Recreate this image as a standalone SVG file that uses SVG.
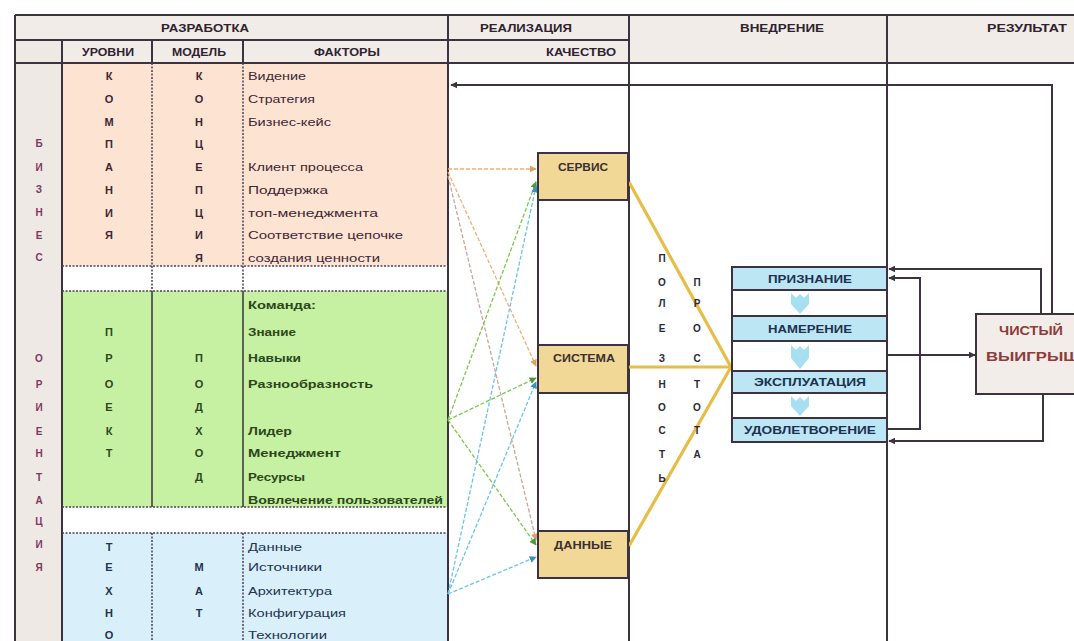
<svg xmlns="http://www.w3.org/2000/svg" width="1074" height="641" viewBox="0 0 1074 641">
<defs>
<style>
.ln{stroke:#3c3240;stroke-width:2;fill:none}
.dl{stroke:#4a3f55;stroke-width:1.5;stroke-dasharray:2 1.5;fill:none}
.hd{font-family:"Liberation Sans",Arial,sans-serif;font-weight:bold;font-size:10px;fill:#2e222e}
.ft{font-family:"Liberation Sans",Arial,sans-serif;font-size:11px}
.fc{fill:#3e2636}
.fg{fill:#2c461c;font-weight:bold}
.fb{fill:#22324f}
.lt{font-family:"Liberation Sans",Arial,sans-serif;font-weight:bold;font-size:11px;text-anchor:middle}
.lb{font-family:"Liberation Sans",Arial,sans-serif;font-weight:bold;font-size:10px;fill:#7a3a5c;text-anchor:middle}
.vt{font-family:"Liberation Sans",Arial,sans-serif;font-weight:bold;font-size:10px;fill:#2a2a35;text-anchor:middle}
.bx{fill:#f2d896;stroke:#3c3240;stroke-width:2}
.bl{font-family:"Liberation Sans",Arial,sans-serif;font-weight:bold;font-size:10px;fill:#3a3030;text-anchor:middle}
.st{font-family:"Liberation Sans",Arial,sans-serif;font-weight:bold;font-size:10px;fill:#1c3050;text-anchor:middle}
.or{stroke:#f0b070;stroke-width:1.3;stroke-dasharray:4 2;fill:none}
.or2{stroke:#c9a4a0;stroke-width:1.3;stroke-dasharray:4 2;fill:none}
.gr{stroke:#78c848;stroke-width:1.3;stroke-dasharray:4 2;fill:none}
.bu{stroke:#66c4ec;stroke-width:1.3;stroke-dasharray:4 2;fill:none}
.gd{stroke:#e6bd45;stroke-width:3.2;fill:none}
.dk{stroke:#3c3240;stroke-width:2;fill:none}
.chev{fill:#a6dff2}
</style>
<marker id="ad" viewBox="0 0 10 10" refX="9" refY="5" markerWidth="7" markerHeight="7" markerUnits="userSpaceOnUse" orient="auto"><path d="M0,0 L10,5 L0,10 Z" fill="#3c3240"/></marker>
<marker id="ao" viewBox="0 0 10 10" refX="9" refY="5" markerWidth="7" markerHeight="7" markerUnits="userSpaceOnUse" orient="auto"><path d="M0,0 L10,5 L0,10 Z" fill="#e0a060"/></marker>
<marker id="ag" viewBox="0 0 10 10" refX="9" refY="5" markerWidth="7" markerHeight="7" markerUnits="userSpaceOnUse" orient="auto"><path d="M0,0 L10,5 L0,10 Z" fill="#4a9a3a"/></marker>
<marker id="ab" viewBox="0 0 10 10" refX="9" refY="5" markerWidth="7" markerHeight="7" markerUnits="userSpaceOnUse" orient="auto"><path d="M0,0 L10,5 L0,10 Z" fill="#3a90c0"/></marker>
</defs>
<rect width="1074" height="641" fill="#ffffff"/>

<g id="table">
<rect x="15" y="15" width="1059" height="48" fill="#f2ece8"/>
<rect x="15" y="40" width="47" height="601" fill="#efe9e6"/>
<rect x="62" y="63" width="386" height="203" fill="#fde4d2"/>
<rect x="62" y="291" width="386" height="216" fill="#c6f0a2"/>
<rect x="62" y="533" width="386" height="108" fill="#d9effa"/>
<path class="ln" d="M15,15 H1074 M15,15 V641 M15,40 H629 M15,63 H1074 M62,40 V641 M448,15 V641 M629,15 V641 M887,15 V641 M152,40 V63 M243,40 V63"/>
<path class="dl" d="M152,63 V291 M243,63 V291 M152,533 V641 M243,533 V641 M62,266 H448 M62,291 H448 M62,507 H448 M62,533 H448"/>
<path class="ln" d="M152,291 V507 M243,291 V507" style="stroke-width:1.5"/>
<text class="hd" x="205" y="32" text-anchor="middle" textLength="88" lengthAdjust="spacingAndGlyphs">РАЗРАБОТКА</text>
<text class="hd" x="526" y="32" text-anchor="middle" textLength="92" lengthAdjust="spacingAndGlyphs">РЕАЛИЗАЦИЯ</text>
<text class="hd" x="782" y="32" text-anchor="middle" textLength="84" lengthAdjust="spacingAndGlyphs">ВНЕДРЕНИЕ</text>
<text class="hd" x="1027" y="32" text-anchor="middle" textLength="80" lengthAdjust="spacingAndGlyphs">РЕЗУЛЬТАТ</text>
<text class="hd" x="108" y="56" text-anchor="middle" textLength="52" lengthAdjust="spacingAndGlyphs">УРОВНИ</text>
<text class="hd" x="199" y="56" text-anchor="middle" textLength="54" lengthAdjust="spacingAndGlyphs">МОДЕЛЬ</text>
<text class="hd" x="347" y="56" text-anchor="middle" textLength="66" lengthAdjust="spacingAndGlyphs">ФАКТОРЫ</text>
<text class="hd" x="581" y="56" text-anchor="middle" textLength="70" lengthAdjust="spacingAndGlyphs">КАЧЕСТВО</text>
</g>

<g id="side-label">
<text class="lb" x="39" y="147">Б</text><text class="lb" x="39" y="171">И</text><text class="lb" x="39" y="193">З</text><text class="lb" x="39" y="216">Н</text><text class="lb" x="39" y="239">Е</text><text class="lb" x="39" y="261">С</text>
<text class="lb" x="39" y="362">О</text><text class="lb" x="39" y="388">Р</text><text class="lb" x="39" y="411">И</text><text class="lb" x="39" y="435">Е</text><text class="lb" x="39" y="457">Н</text><text class="lb" x="39" y="481">Т</text><text class="lb" x="39" y="504">А</text><text class="lb" x="39" y="525">Ц</text><text class="lb" x="39" y="548">И</text><text class="lb" x="39" y="571">Я</text>
</g>

<g id="company">
<text class="lt fc" x="109" y="80">К</text><text class="lt fc" x="109" y="103">О</text><text class="lt fc" x="109" y="126">М</text><text class="lt fc" x="109" y="148">П</text><text class="lt fc" x="109" y="171">А</text><text class="lt fc" x="109" y="194">Н</text><text class="lt fc" x="109" y="217">И</text><text class="lt fc" x="109" y="239">Я</text>
<text class="lt fc" x="199" y="80">К</text><text class="lt fc" x="199" y="103">О</text><text class="lt fc" x="199" y="126">Н</text><text class="lt fc" x="199" y="148">Ц</text><text class="lt fc" x="199" y="171">Е</text><text class="lt fc" x="199" y="194">П</text><text class="lt fc" x="199" y="217">Ц</text><text class="lt fc" x="199" y="239">И</text><text class="lt fc" x="199" y="262">Я</text>
<text class="ft fc" x="248" y="80" textLength="58" lengthAdjust="spacingAndGlyphs">Видение</text>
<text class="ft fc" x="248" y="103" textLength="67" lengthAdjust="spacingAndGlyphs">Стратегия</text>
<text class="ft fc" x="248" y="126" textLength="83" lengthAdjust="spacingAndGlyphs">Бизнес-кейс</text>
<text class="ft fc" x="248" y="171" textLength="115" lengthAdjust="spacingAndGlyphs">Клиент процесса</text>
<text class="ft fc" x="248" y="194" textLength="80" lengthAdjust="spacingAndGlyphs">Поддержка</text>
<text class="ft fc" x="248" y="217" textLength="130" lengthAdjust="spacingAndGlyphs">топ-менеджмента</text>
<text class="ft fc" x="248" y="239" textLength="155" lengthAdjust="spacingAndGlyphs">Соответствие цепочке</text>
<text class="ft fc" x="248" y="262" textLength="132" lengthAdjust="spacingAndGlyphs">создания ценности</text>
</g>

<g id="project">
<text class="lt fg" x="109" y="336">П</text><text class="lt fg" x="109" y="362">Р</text><text class="lt fg" x="109" y="388">О</text><text class="lt fg" x="109" y="411">Е</text><text class="lt fg" x="109" y="435">К</text><text class="lt fg" x="109" y="457">Т</text>
<text class="lt fg" x="199" y="362">П</text><text class="lt fg" x="199" y="388">О</text><text class="lt fg" x="199" y="411">Д</text><text class="lt fg" x="199" y="435">Х</text><text class="lt fg" x="199" y="457">О</text><text class="lt fg" x="199" y="481">Д</text>
<text class="ft fg" x="248" y="309" textLength="68" lengthAdjust="spacingAndGlyphs">Команда:</text>
<text class="ft fg" x="248" y="336" textLength="48" lengthAdjust="spacingAndGlyphs">Знание</text>
<text class="ft fg" x="248" y="362" textLength="53" lengthAdjust="spacingAndGlyphs">Навыки</text>
<text class="ft fg" x="248" y="388" textLength="125" lengthAdjust="spacingAndGlyphs">Разнообразность</text>
<text class="ft fg" x="248" y="435" textLength="44" lengthAdjust="spacingAndGlyphs">Лидер</text>
<text class="ft fg" x="248" y="457" textLength="93" lengthAdjust="spacingAndGlyphs">Менеджмент</text>
<text class="ft fg" x="248" y="481" textLength="57" lengthAdjust="spacingAndGlyphs">Ресурсы</text>
<text class="ft fg" x="248" y="504" textLength="195" lengthAdjust="spacingAndGlyphs">Вовлечение пользователей</text>
</g>

<g id="technology">
<text class="lt fb" x="109" y="551">Т</text><text class="lt fb" x="109" y="571">Е</text><text class="lt fb" x="109" y="595">Х</text><text class="lt fb" x="109" y="617">Н</text><text class="lt fb" x="109" y="639">О</text>
<text class="lt fb" x="199" y="571">М</text><text class="lt fb" x="199" y="595">А</text><text class="lt fb" x="199" y="617">Т</text>
<text class="ft fb" x="248" y="551" textLength="54" lengthAdjust="spacingAndGlyphs">Данные</text>
<text class="ft fb" x="248" y="571" textLength="74" lengthAdjust="spacingAndGlyphs">Источники</text>
<text class="ft fb" x="248" y="595" textLength="84" lengthAdjust="spacingAndGlyphs">Архитектура</text>
<text class="ft fb" x="248" y="617" textLength="98" lengthAdjust="spacingAndGlyphs">Конфигурация</text>
<text class="ft fb" x="248" y="639" textLength="79" lengthAdjust="spacingAndGlyphs">Технологии</text>
</g>

<g id="connectors">
<path class="or" d="M448,169 L536,169" marker-end="url(#ao)"/>
<path class="or" d="M448,172 L536,366" marker-end="url(#ao)"/>
<path class="or2" d="M448,176 L536,540" marker-end="url(#ao)"/>
<path class="gr" d="M448,420 L536,182" marker-end="url(#ag)"/>
<path class="gr" d="M448,420 L536,378" marker-end="url(#ag)"/>
<path class="gr" d="M448,420 L536,545" marker-end="url(#ag)"/>
<path class="bu" d="M448,594 L536,186" marker-end="url(#ab)"/>
<path class="bu" d="M448,594 L536,382" marker-end="url(#ab)"/>
<path class="bu" d="M448,594 L536,557" marker-end="url(#ab)"/>
<path class="gd" d="M629,182 L731,367 M629,367 L731,367 M629,546 L731,367"/>
<path class="dk" d="M1052,314 V85 H451" marker-end="url(#ad)"/>
<path class="dk" d="M1041,314 V269 H889" marker-end="url(#ad)"/>
<path class="dk" d="M887,429 H920 V278 H889" marker-end="url(#ad)"/>
<path class="dk" d="M887,355 H975" marker-end="url(#ad)"/>
<path class="dk" d="M1043,394 V441 H889" marker-end="url(#ad)"/>
<path class="ln" d="M538,200 V345 M538,393 V531"/>
</g>

<g id="servis"><rect class="bx" x="538" y="153" width="90" height="47"/><text class="bl" x="583" y="171" textLength="50" lengthAdjust="spacingAndGlyphs">СЕРВИС</text></g>
<g id="sistema"><rect class="bx" x="538" y="345" width="90" height="48"/><text class="bl" x="584" y="362" textLength="62" lengthAdjust="spacingAndGlyphs">СИСТЕМА</text></g>
<g id="dannye"><rect class="bx" x="538" y="531" width="90" height="47"/><text class="bl" x="583" y="549" textLength="58" lengthAdjust="spacingAndGlyphs">ДАННЫЕ</text></g>

<g id="poleznost">
<text class="vt" x="662" y="262">П</text><text class="vt" x="662" y="286">О</text><text class="vt" x="662" y="307">Л</text><text class="vt" x="662" y="332">Е</text><text class="vt" x="662" y="362">З</text><text class="vt" x="662" y="388">Н</text><text class="vt" x="662" y="411">О</text><text class="vt" x="662" y="434">С</text><text class="vt" x="662" y="458">Т</text><text class="vt" x="662" y="482">Ь</text>
</g>
<g id="prostota">
<text class="vt" x="697" y="286">П</text><text class="vt" x="697" y="307">Р</text><text class="vt" x="697" y="332">О</text><text class="vt" x="697" y="362">С</text><text class="vt" x="697" y="388">Т</text><text class="vt" x="697" y="411">О</text><text class="vt" x="697" y="434">Т</text><text class="vt" x="697" y="458">А</text>
</g>

<g id="stack">
<rect x="732" y="267" width="155" height="175" fill="#ffffff" stroke="#3c3240" stroke-width="2"/>
<rect x="732" y="267" width="155" height="23" fill="#bde6f4" stroke="#3c3240" stroke-width="2"/>
<rect x="732" y="316" width="155" height="25" fill="#bde6f4" stroke="#3c3240" stroke-width="2"/>
<rect x="732" y="371" width="155" height="22" fill="#bde6f4" stroke="#3c3240" stroke-width="2"/>
<rect x="732" y="418" width="155" height="24" fill="#bde6f4" stroke="#3c3240" stroke-width="2"/>
<path class="chev" d="M791,293 L796,298 L800,294 L804,298 L809,293 L809,304 L800,314 L791,304 Z"/>
<path class="chev" d="M791,345 L796,350 L800,346 L804,350 L809,345 L809,358 L800,369 L791,358 Z"/>
<path class="chev" d="M791,396 L796,401 L800,397 L804,401 L809,396 L809,406 L800,416 L791,406 Z"/>
<text class="st" x="810" y="283" textLength="84" lengthAdjust="spacingAndGlyphs">ПРИЗНАНИЕ</text>
<text class="st" x="810" y="333" textLength="84" lengthAdjust="spacingAndGlyphs">НАМЕРЕНИЕ</text>
<text class="st" x="810" y="386" textLength="112" lengthAdjust="spacingAndGlyphs">ЭКСПЛУАТАЦИЯ</text>
<text class="st" x="810" y="434" textLength="132" lengthAdjust="spacingAndGlyphs">УДОВЛЕТВОРЕНИЕ</text>
</g>

<g id="result">
<rect x="976" y="314" width="120" height="80" fill="#f3ede9" stroke="#3c3240" stroke-width="2"/>
<text x="1031" y="335" text-anchor="middle" font-family="Liberation Sans, Arial, sans-serif" font-weight="bold" font-size="12" fill="#8e3b3b" textLength="64" lengthAdjust="spacingAndGlyphs">ЧИСТЫЙ</text>
<text x="986" y="361" font-family="Liberation Sans, Arial, sans-serif" font-weight="bold" font-size="12" fill="#8e3b3b" textLength="94" lengthAdjust="spacingAndGlyphs">ВЫИГРЫШ</text>
</g>
</svg>
